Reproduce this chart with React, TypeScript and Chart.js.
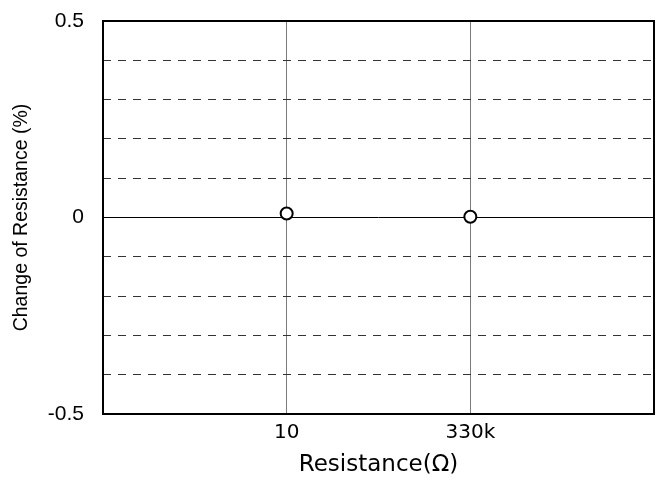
import React, { useEffect, useRef } from "react";
import { Chart, registerables } from "chart.js";

Chart.register(...registerables);

const categories = ["10", "330k"];
const categoryPositions = [1, 2];
const changeValues = [0.01, 0.002];
const yTickLabels = [-0.5, 0, 0.5];

const boxPlugin = {
  id: "plotBox",
  afterDraw(chart: any) {
    const { ctx, chartArea } = chart;
    ctx.save();
    ctx.strokeStyle = "#000";
    ctx.lineWidth = 2;
    ctx.strokeRect(chartArea.left, chartArea.top, chartArea.right - chartArea.left, chartArea.bottom - chartArea.top);
    ctx.restore();
  },
};

export default function App() {
  const ref = useRef<HTMLCanvasElement | null>(null);
  useEffect(() => {
    if (!ref.current) return;
    const isZero = (v: number) => Math.abs(v) < 1e-9;
    const isEdge = (v: number) => Math.abs(Math.abs(v) - 0.5) < 1e-9;
    const chart = new Chart(ref.current, {
      type: "scatter",
      data: {
        datasets: [
          {
            data: categoryPositions.map((x, i) => ({ x, y: changeValues[i] })),
            pointRadius: 6,
            pointBorderWidth: 2,
            pointBackgroundColor: "#fff",
            pointBorderColor: "#000",
            showLine: false,
          },
        ],
      },
      options: {
        animation: false,
        responsive: false,
        events: [],
        layout: { autoPadding: false, padding: { top: 21, right: 3, left: 0, bottom: 0 } },
        plugins: { legend: { display: false }, tooltip: { enabled: false } },
        scales: {
          x: {
            type: "linear",
            min: 0,
            max: categories.length + 1,
            afterBuildTicks: (scale: any) => {
              scale.ticks = [0, ...categoryPositions, categories.length + 1].map((v) => ({ value: v }));
            },
            afterFit: (scale: any) => {
              scale.height = 68;
              scale.paddingLeft = 0;
              scale.paddingRight = 0;
            },
            ticks: {
              autoSkip: false,
              maxRotation: 0,
              padding: 7,
              color: "#000",
              font: { family: "'DejaVu Sans'", size: 20 },
              callback: (v: any) => {
                const idx = categoryPositions.indexOf(Number(v));
                return idx >= 0 ? categories[idx] : "";
              },
            },
            grid: {
              drawTicks: false,
              lineWidth: 1,
              color: (ctx: any) => {
                const v = ctx.tick ? ctx.tick.value : 0;
                return categoryPositions.includes(v) ? "#7a7a7a" : "rgba(0,0,0,0)";
              },
            },
            border: { display: false },
            title: {
              display: true,
              text: "Resistance(Ω)",
              color: "#000",
              font: { family: "'DejaVu Sans'", size: 23 },
              padding: { top: 0, bottom: 3 },
            },
          },
          y: {
            min: -0.5,
            max: 0.5,
            afterFit: (scale: any) => {
              scale.width = 103;
              scale.paddingTop = 0;
              scale.paddingBottom = 0;
            },
            ticks: {
              stepSize: 0.1,
              padding: 19,
              color: "#000",
              font: { family: "'Liberation Sans', Arial", size: 21 },
              callback: (v: any) => {
                const n = Number(v);
                const hit = yTickLabels.find((t) => Math.abs(t - n) < 1e-9);
                return hit === undefined ? "" : String(hit);
              },
            },
            grid: {
              drawTicks: false,
              lineWidth: 1,
              color: (ctx: any) => {
                const v = ctx.tick ? ctx.tick.value : 0;
                if (isEdge(v)) return "rgba(0,0,0,0)";
                if (isZero(v)) return "#000";
                return "#333";
              },
            },
            border: {
              display: false,
              dash: (ctx: any) => {
                const v = ctx.tick ? ctx.tick.value : 0;
                return isZero(v) ? [] : [8, 7];
              },
            },
            title: {
              display: true,
              text: "Change of Resistance (%)",
              color: "#000",
              font: { family: "'Liberation Sans', Arial", size: 19.5 },
              padding: { top: 10, bottom: 0 },
            },
          },
        },
      },
      plugins: [boxPlugin],
    } as any);
    return () => chart.destroy();
  }, []);
  return (
    <div style={{ position: "absolute", left: 0, top: 0, width: 657, height: 482, background: "#fff" }}>
      <canvas ref={ref} width={657} height={482} style={{ display: "block" }} />
    </div>
  );
}
